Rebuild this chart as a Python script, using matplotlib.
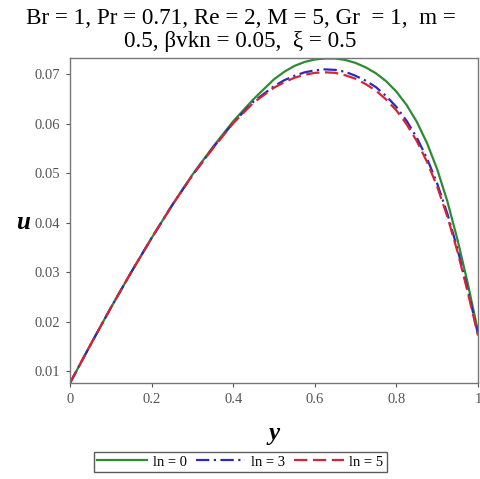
import matplotlib
matplotlib.use("Agg")
import matplotlib.pyplot as plt

# values
y_vals = [0.0, 0.05, 0.1, 0.15, 0.2, 0.25, 0.3, 0.35, 0.4, 0.45, 0.5,
          0.525, 0.55, 0.575, 0.6, 0.625, 0.65, 0.675, 0.7, 0.725, 0.75,
          0.775, 0.8, 0.825, 0.85, 0.875, 0.9, 0.925, 0.95, 0.975, 1.0]

u_ln0 = [0.0076, 0.0153, 0.0228, 0.0300, 0.0369, 0.0435, 0.0497, 0.0553, 0.0605, 0.0650, 0.0690,
         0.0705, 0.0717, 0.0725, 0.0730, 0.0732, 0.0732, 0.0729, 0.0723, 0.0714, 0.0702,
         0.0686, 0.0665, 0.0638, 0.0604, 0.0561, 0.0508, 0.0443, 0.0365, 0.0277, 0.0180]
u_ln3 = [0.0076, 0.0153, 0.0228, 0.0300, 0.0369, 0.0435, 0.0496, 0.0551, 0.0602, 0.0645, 0.0676,
         0.0688, 0.0697, 0.0704, 0.0708, 0.0710, 0.0709, 0.0705, 0.0697, 0.0687, 0.0674,
         0.0656, 0.0634, 0.0606, 0.0572, 0.0530, 0.0479, 0.0418, 0.0346, 0.0264, 0.0175]
u_ln5 = [0.0076, 0.0153, 0.0228, 0.0300, 0.0369, 0.0435, 0.0496, 0.0550, 0.0601, 0.0643, 0.0673,
         0.0684, 0.0693, 0.0699, 0.0703, 0.0704, 0.0703, 0.0698, 0.0691, 0.0680, 0.0667,
         0.0649, 0.0627, 0.0599, 0.0565, 0.0523, 0.0473, 0.0412, 0.0341, 0.0259, 0.0172]

series_labels = ["ln = 0", "ln = 3", "ln = 5"]
xtick_vals = [0, 0.2, 0.4, 0.6, 0.8, 1.0]
xtick_labels = ["0", "0.2", "0.4", "0.6", "0.8", "1"]
ytick_vals = [0.01, 0.02, 0.03, 0.04, 0.05, 0.06, 0.07]
ytick_labels = ["0.01", "0.02", "0.03", "0.04", "0.05", "0.06", "0.07"]

title_line1 = "Br = 1, Pr = 0.71, Re = 2, M = 5, Gr  = 1,  m ="
title_line2 = "0.5, \u03b2vkn = 0.05,  \u03be = 0.5"

plt.rcParams["font.family"] = ["Liberation Serif", "DejaVu Serif"]

fig = plt.figure(figsize=(4.81, 4.79), dpi=100)
ax = fig.add_axes([70 / 481, 1 - 383 / 479, 408 / 481, 325 / 479])

ax.plot(y_vals, u_ln0, color="#2e8b34", lw=1.6, ls="-", label=series_labels[0])
ax.plot(y_vals, u_ln3, color="#2a2ac0", lw=1.6, ls=(0, (6, 2, 1, 2)), label=series_labels[1])
ax.plot(y_vals, u_ln5, color="#d42438", lw=1.6, ls=(0, (6, 2.5)), label=series_labels[2])

ax.set_xlim(0, 1)
ax.set_ylim(0.0076, 0.0733)
ax.set_xticks(xtick_vals, xtick_labels)
ax.set_yticks(ytick_vals, ytick_labels)
ax.tick_params(labelsize=10.5, colors="#555555", length=3, width=0.8, pad=4)
for sp in ax.spines.values():
    sp.set_color("#777777")
    sp.set_linewidth(1.0)

ax.set_xlabel("y", fontsize=18, fontstyle="italic", fontweight="bold", labelpad=12)
ax.set_ylabel("u", fontsize=18, fontstyle="italic", fontweight="bold", rotation=0)
ax.yaxis.set_label_coords(-0.115, 0.46)

fig.text(0.5, 1 - 19 / 479, title_line1, ha="center", va="center", fontsize=16.7)
fig.text(0.5, 1 - 41 / 479, title_line2, ha="center", va="center", fontsize=16.7)

leg = fig.legend(loc="center", bbox_to_anchor=(0.5, 1 - 462 / 479), ncol=3,
                 fontsize=10.5, frameon=True, fancybox=False, handlelength=3.4,
                 handletextpad=0.4, columnspacing=0.6, borderpad=0.25, borderaxespad=0)
leg.get_frame().set_edgecolor("#333333")
leg.get_frame().set_linewidth(1.0)

fig.savefig("out.png", dpi=100)
